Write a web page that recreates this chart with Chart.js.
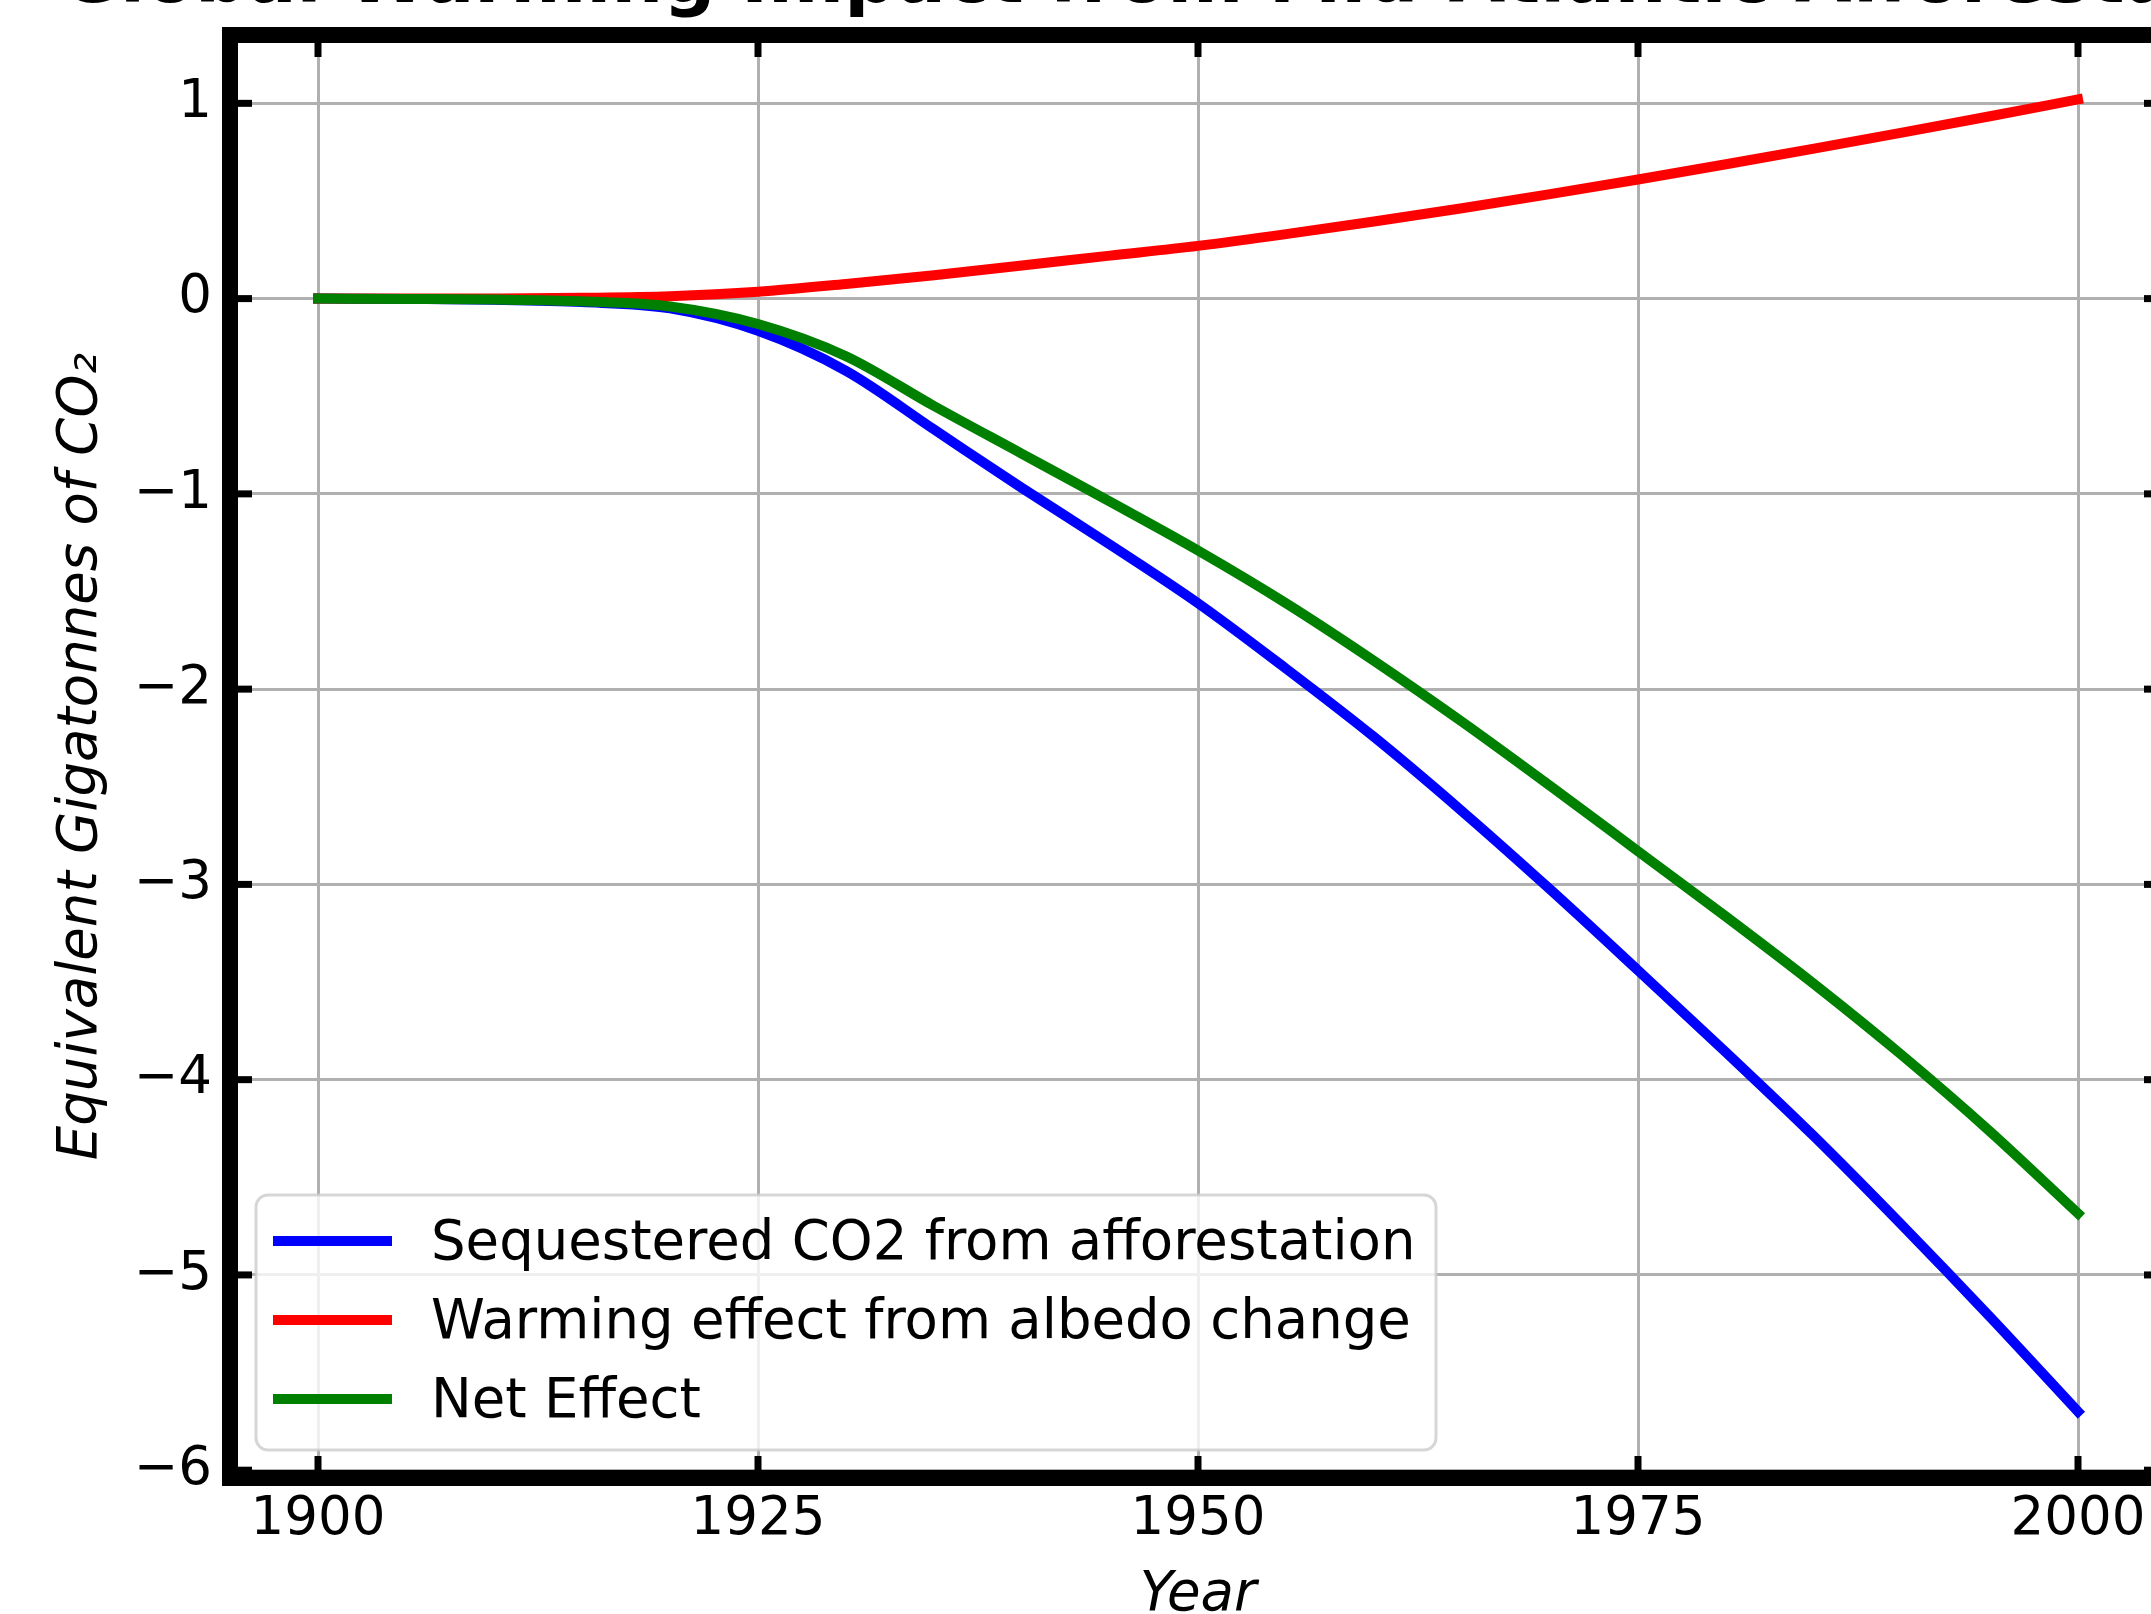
<!DOCTYPE html>
<html lang="en">
<head>
<meta charset="UTF-8">
<title>Global Warming Impact from Mid-Atlantic Afforestation</title>
<script src="https://cdn.jsdelivr.net/npm/chart.js"></script>
<style>
    body {
        margin: 0;
        overflow: hidden;
        background: #fff;
    }

    .chart-box {
        position: absolute;
        left: 0;
        top: 0;
        width: 2400px;
        height: 1700px;
    }
</style>
</head>
<body>

<div class="chart-box">
    <canvas id="chart"></canvas>
</div>

<script>
    const chartTitle = 'Global Warming Impact from Mid-Atlantic Afforestation';
    const years = [1900, 1905, 1910, 1915, 1920, 1925, 1930, 1935, 1940, 1945, 1950,
                   1955, 1960, 1965, 1970, 1975, 1980, 1985, 1990, 1995, 2000];
    const sequestered = [0, -0.002, -0.006, -0.018, -0.05, -0.165, -0.37, -0.67, -0.97, -1.26, -1.56,
                         -1.895, -2.245, -2.625, -3.025, -3.44, -3.86, -4.29, -4.745, -5.215, -5.70];
    const albedo = [0, 0, 0.001, 0.004, 0.012, 0.035, 0.075, 0.12, 0.17, 0.22, 0.27,
                    0.33, 0.395, 0.463, 0.535, 0.61, 0.688, 0.768, 0.85, 0.934, 1.02];
    const net = [0, -0.002, -0.005, -0.014, -0.04, -0.13, -0.295, -0.55, -0.795, -1.04, -1.29,
                 -1.56, -1.855, -2.167, -2.495, -2.83, -3.165, -3.51, -3.875, -4.265, -4.685];
    const seriesNames = ['Sequestered CO2 from afforestation', 'Warming effect from albedo change', 'Net Effect'];
    const xTicks = [1900, 1925, 1950, 1975, 2000];
    const yTicks = [-6, -5, -4, -3, -2, -1, 0, 1];

    const FONT = "'DejaVu Sans', sans-serif";
    const SIZE = 53;
    const LABEL_SIZE = 54.5;

    function points(values) {
        return years.map((yr, i) => ({ x: yr, y: values[i] }));
    }

    function seg(ctx, x1, y1, x2, y2) {
        ctx.beginPath();
        ctx.moveTo(x1, y1);
        ctx.lineTo(x2, y2);
        ctx.stroke();
    }

    // matplotlib style frame: thick spines, inward ticks, legend box and title
    const framePlugin = {
        id: 'frame',
        afterDraw(chart) {
            const { ctx, chartArea: a, scales: { x, y } } = chart;
            ctx.save();

            ctx.strokeStyle = '#000';
            ctx.lineWidth = 7;
            ctx.lineCap = 'butt';
            xTicks.forEach(v => {
                const px = x.getPixelForValue(v);
                seg(ctx, px, a.top, px, a.top + 22);
                seg(ctx, px, a.bottom, px, a.bottom - 22);
            });
            yTicks.forEach(v => {
                const py = y.getPixelForValue(v);
                seg(ctx, a.left, py, a.left + 22, py);
                seg(ctx, a.right, py, a.right - 22, py);
            });

            ctx.lineWidth = 16;
            ctx.strokeRect(a.left, a.top, a.right - a.left, a.bottom - a.top);

            // legend
            ctx.beginPath();
            ctx.roundRect(256, 1195, 1180, 255, 12);
            ctx.fillStyle = 'rgba(255,255,255,0.8)';
            ctx.fill();
            ctx.lineWidth = 3;
            ctx.strokeStyle = 'rgba(204,204,204,0.8)';
            ctx.stroke();

            ctx.font = LABEL_SIZE + 'px ' + FONT;
            ctx.textAlign = 'left';
            ctx.textBaseline = 'middle';
            chart.data.datasets.forEach((ds, i) => {
                const rowY = 1241 + i * 79;
                ctx.strokeStyle = ds.borderColor;
                ctx.lineWidth = 10;
                seg(ctx, 273, rowY, 392, rowY);
                ctx.fillStyle = '#000';
                ctx.fillText(ds.label, 431, rowY + 4);
            });

            // title sits mostly above the top edge of the picture
            ctx.font = 'bold 73px ' + FONT;
            ctx.textAlign = 'center';
            ctx.textBaseline = 'alphabetic';
            ctx.fillStyle = '#000';
            ctx.fillText(chartTitle, (a.left + a.right) / 2, 2);

            ctx.restore();
        }
    };

    const lineStyle = {
        borderWidth: 10,
        pointRadius: 0,
        borderCapStyle: 'square',
        cubicInterpolationMode: 'monotone',
        fill: false
    };

    new Chart(document.getElementById('chart'), {
        type: 'line',
        data: {
            datasets: [
                { ...lineStyle, label: seriesNames[0], data: points(sequestered), borderColor: '#0000ff', order: 2 },
                { ...lineStyle, label: seriesNames[1], data: points(albedo), borderColor: '#ff0000', order: 1 },
                { ...lineStyle, label: seriesNames[2], data: points(net), borderColor: '#008000', order: 0 }
            ]
        },
        options: {
            responsive: true,
            maintainAspectRatio: false,
            animation: false,
            devicePixelRatio: 1,
            layout: {
                autoPadding: false,
                padding: { left: 0, top: 35, right: 234, bottom: 0 }
            },
            plugins: {
                legend: { display: false },
                title: { display: false },
                tooltip: { enabled: false }
            },
            scales: {
                x: {
                    type: 'linear',
                    min: 1895,
                    max: 2005,
                    afterBuildTicks: s => { s.ticks = xTicks.map(v => ({ value: v })); },
                    afterFit: s => {
                        s.height = 222;
                        s.paddingLeft = s.paddingRight = s.paddingTop = s.paddingBottom = 0;
                    },
                    grid: { color: '#b0b0b0', lineWidth: 3, drawTicks: false },
                    border: { display: false },
                    ticks: {
                        font: { family: FONT, size: SIZE },
                        color: '#000',
                        padding: 10,
                        maxRotation: 0,
                        autoSkip: false,
                        callback: v => String(v)
                    },
                    title: {
                        display: true,
                        text: 'Year',
                        color: '#000',
                        font: { family: FONT, size: LABEL_SIZE, style: 'italic' },
                        padding: { top: 0, bottom: 71 }
                    }
                },
                y: {
                    type: 'linear',
                    min: -6.04,
                    max: 1.35,
                    afterBuildTicks: s => { s.ticks = yTicks.map(v => ({ value: v })); },
                    afterFit: s => {
                        s.width = 230;
                        s.paddingLeft = s.paddingRight = s.paddingTop = s.paddingBottom = 0;
                    },
                    grid: { color: '#b0b0b0', lineWidth: 3, drawTicks: false },
                    border: { display: false },
                    ticks: {
                        font: { family: FONT, size: SIZE },
                        color: '#000',
                        padding: 18,
                        autoSkip: false,
                        callback: v => (v < 0 ? '\u2212' + Math.abs(v) : String(v))
                    },
                    title: {
                        display: true,
                        text: 'Equivalent Gigatonnes of CO\u2082',
                        color: '#000',
                        font: { family: FONT, size: LABEL_SIZE, style: 'italic' },
                        padding: { top: 49, bottom: 0 }
                    }
                }
            }
        },
        plugins: [framePlugin]
    });
</script>

</body>
</html>
